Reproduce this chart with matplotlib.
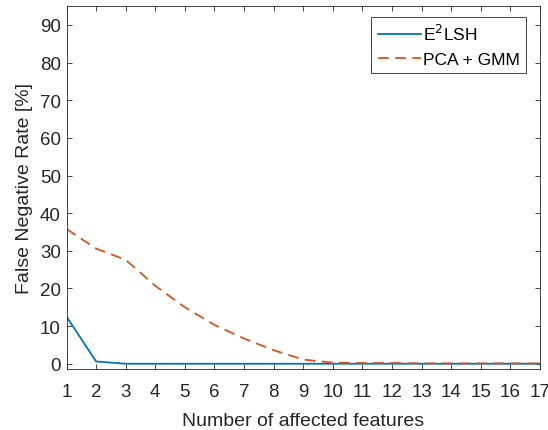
import numpy as np
import matplotlib.pyplot as plt

features = list(range(1, 18))
e2lsh = [12.5, 0.6, 0, 0, 0, 0, 0, 0, 0, 0, 0, 0, 0, 0, 0, 0, 0]
pca_gmm = [35.8, 30.6, 27.6, 20.7, 15.0, 10.3, 6.7, 3.6, 1.1, 0.3, 0.2, 0.2, 0.1, 0.1, 0.1, 0.1, 0.1]
yticks = list(range(0, 100, 10))

plt.rcParams['font.family'] = ['Liberation Sans', 'DejaVu Sans']
grey = '#262626'

fig = plt.figure(figsize=(5.48, 4.31), dpi=100)
ax = fig.add_axes([0.1214, 0.1415, 0.864, 0.842])

ax.plot(features, e2lsh, color='#0072BD', lw=1.3, label='E$^2$LSH')
ax.plot(features, pca_gmm, color='#D95319', lw=1.3, ls=(0, (6, 3.5)), label='PCA + GMM')

ax.set_xlim(1, 17)
ax.set_ylim(-1.4, 95)
ax.set_xticks(features)
ax.set_yticks(yticks)
ax.tick_params(direction='in', top=True, right=True, length=3.6, width=0.6,
               labelsize=13.5, colors=grey, labelcolor=grey)
ax.tick_params(axis='x', pad=10)
ax.tick_params(axis='y', pad=4)
for s in ax.spines.values():
    s.set_color(grey)
    s.set_linewidth(0.6)

ax.set_xlabel('Number of affected features', fontsize=14, color=grey, labelpad=9)
ax.set_ylabel('False Negative Rate [%]', fontsize=14, color=grey, labelpad=5)

# legend box's upper right corner sits at about (526, 18) px
leg = ax.legend(loc='upper right', fontsize=12.5, fancybox=False, framealpha=1,
                edgecolor=grey, handlelength=2.5, handletextpad=0.12,
                borderpad=0.35, labelspacing=0.5, borderaxespad=0.0,
                bbox_to_anchor=(526 / 548, 1 - 18 / 431),
                bbox_transform=fig.transFigure)
leg.get_frame().set_linewidth(0.6)

fig.savefig('out.png', dpi=100)
